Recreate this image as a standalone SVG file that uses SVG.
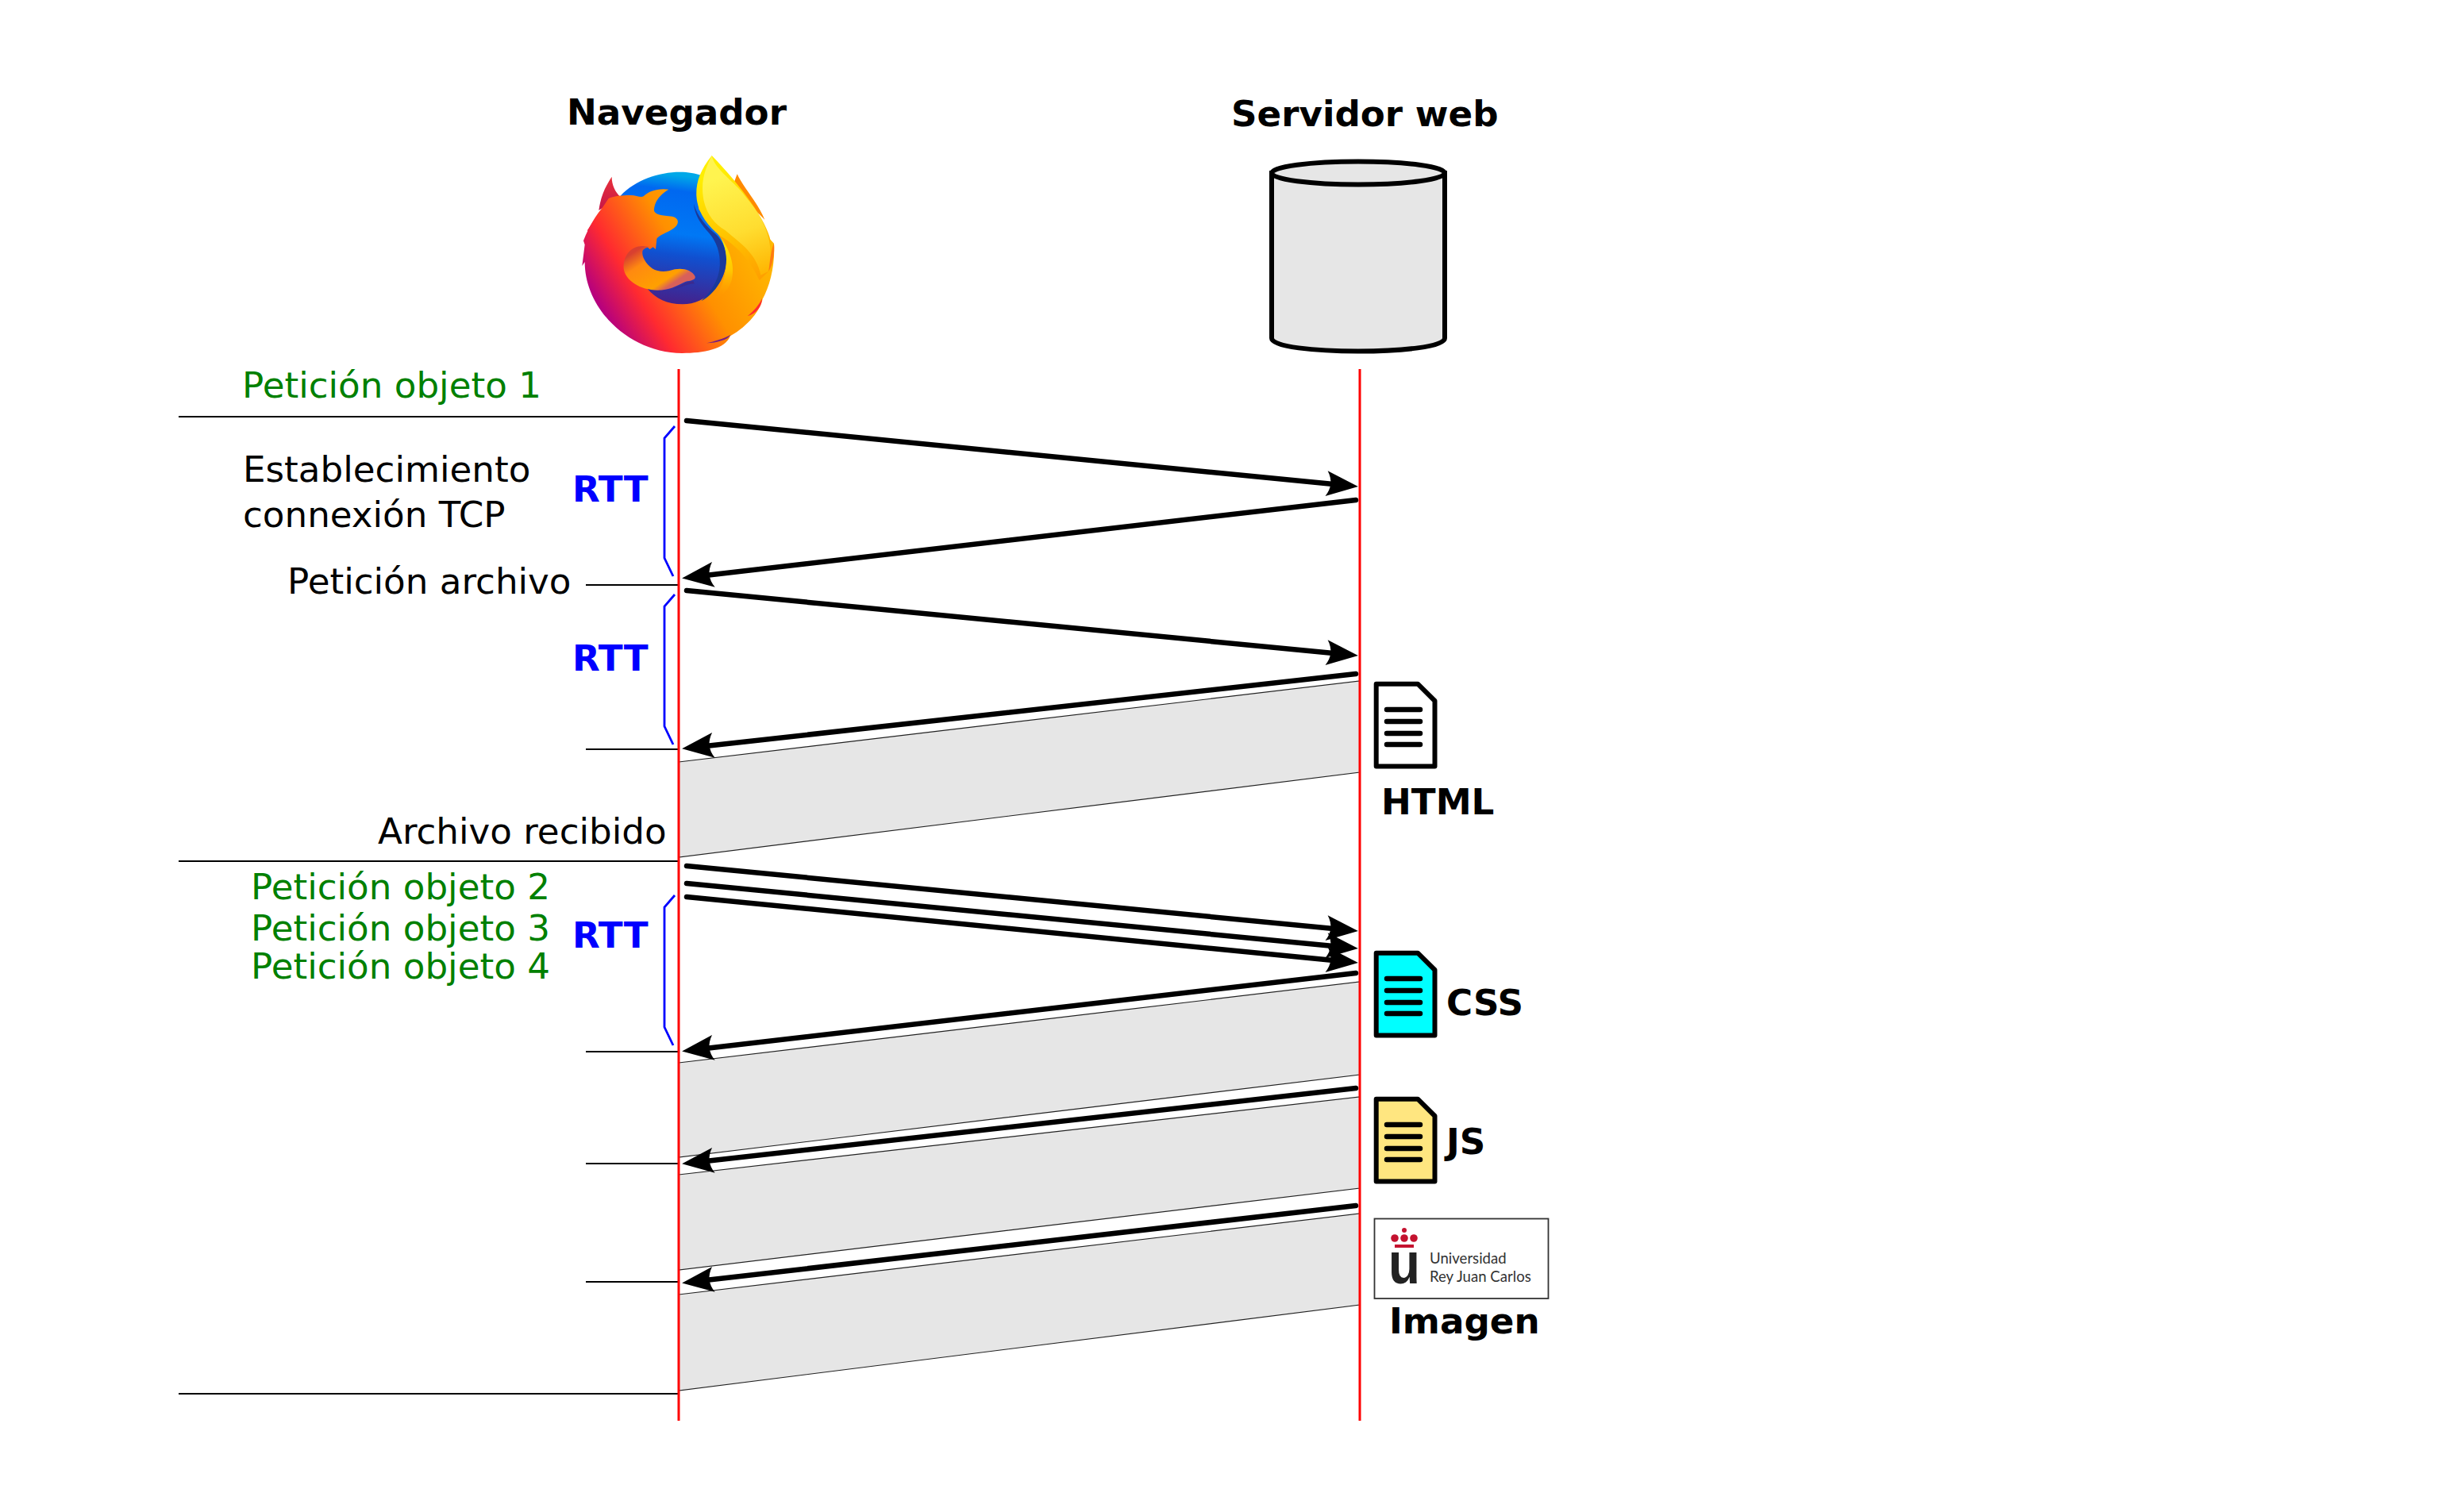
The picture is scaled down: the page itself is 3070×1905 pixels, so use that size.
<svg xmlns="http://www.w3.org/2000/svg" width="3070" height="1905" viewBox="0 0 3070 1905">
<style>
text{font-family:"DejaVu Sans",sans-serif;font-size:45.2px}
.b{font-weight:bold}
.g{fill:#008000}
.r{fill:#0000ff;font-weight:bold}
.life{stroke:#ff0000;stroke-width:3;fill:none}
.tick{stroke:#000;stroke-width:2;fill:none}
.arrow{stroke:#000;stroke-width:6.5;stroke-linecap:round;fill:none;marker-end:url(#head)}
.brace{stroke:#0000ff;stroke-width:2.8;fill:none}
.band{fill:#e6e6e6;stroke:#222;stroke-width:1.2}
.doc{stroke:#000;stroke-width:6;stroke-linejoin:round}
.ln{stroke:#000;stroke-width:6.5;stroke-linecap:round;fill:none}
</style>
<defs>
<marker id="head" markerUnits="userSpaceOnUse" viewBox="-40 -20 64 40" markerWidth="64" markerHeight="40" refX="0" refY="0" orient="auto" overflow="visible">
<path d="M21,0 L-19,-16 C-12,-5 -12,5 -19,16 Z" fill="#000"/>
</marker>
<linearGradient id="body" gradientUnits="userSpaceOnUse" x1="130" y1="830" x2="800" y2="425">
<stop offset="0" stop-color="#b5007f"/><stop offset=".19" stop-color="#ff2a30"/><stop offset=".47" stop-color="#ff9000"/><stop offset=".75" stop-color="#ffb000"/><stop offset="1" stop-color="#ffc400"/>
</linearGradient>
<linearGradient id="globe" gradientUnits="userSpaceOnUse" x1="520" y1="400" x2="460" y2="880">
<stop offset="0" stop-color="#00a8e8"/><stop offset=".12" stop-color="#0068f0"/><stop offset=".45" stop-color="#0078f5"/><stop offset=".62" stop-color="#1050d0"/><stop offset="1" stop-color="#45208a"/>
</linearGradient>
<linearGradient id="ear" gradientUnits="userSpaceOnUse" x1="210" y1="400" x2="190" y2="520">
<stop offset="0" stop-color="#e8303a"/><stop offset="1" stop-color="#c81848"/>
</linearGradient>
<linearGradient id="tail" gradientUnits="userSpaceOnUse" x1="300" y1="680" x2="400" y2="830">
<stop offset="0" stop-color="#d84030"/><stop offset=".3" stop-color="#ff8a10"/><stop offset=".85" stop-color="#ffa000"/><stop offset="1" stop-color="#d8605a"/>
</linearGradient>
<linearGradient id="flame" gradientUnits="userSpaceOnUse" x1="620" y1="400" x2="760" y2="780">
<stop offset="0" stop-color="#fff44f"/><stop offset=".55" stop-color="#ffdd30"/><stop offset="1" stop-color="#ffb400"/>
</linearGradient>
<linearGradient id="gold" gradientUnits="userSpaceOnUse" x1="560" y1="400" x2="720" y2="800">
<stop offset="0" stop-color="#ffee00"/><stop offset=".5" stop-color="#ffc800"/><stop offset="1" stop-color="#ffa000"/>
</linearGradient>
<linearGradient id="cres" gradientUnits="userSpaceOnUse" x1="640" y1="640" x2="620" y2="860">
<stop offset="0" stop-color="#ffe600"/><stop offset=".5" stop-color="#ffc800"/><stop offset="1" stop-color="#ff9800" stop-opacity="0"/>
</linearGradient>
<g id="docshape">
<path d="M1733.7,861.7 H1786 L1807.5,883 V965.5 H1733.7 Z"/>
</g>
<g id="doclines">
<path class="ln" d="M1747,894 H1789 M1747,909 H1789 M1747,924 H1789 M1747,938 H1789"/>
</g>
</defs>

<g id="bands">
<polygon class="band" points="855,960 1713,858 1713,973 855,1080"/>
<polygon class="band" points="855,1339 1713,1237 1713,1354 855,1458"/>
<polygon class="band" points="855,1480 1713,1382 1713,1497 855,1600"/>
<polygon class="band" points="855,1631 1713,1529 1713,1644 855,1752"/>
</g>

<g id="ticks">
<path class="tick" d="M225,525 H855 M738,737 H855 M738,944 H855 M225,1085 H855 M738,1325 H855 M738,1466 H855 M738,1615 H855 M225,1756 H855"/>
</g>

<g id="lifelines">
<path class="life" d="M855,465 V1790"/>
<path class="life" d="M1713,465 V1790"/>
</g>

<g id="braces">
<path class="brace" d="M850,537 L837,552 V703 L848,726"/>
<path class="brace" d="M850,749 L837,764 V915 L848,938"/>
<path class="brace" d="M850,1128 L837,1143 V1294 L848,1317"/>
</g>

<g id="connectors">
<path class="arrow" d="M865,530 L1690,611"/>
<path class="arrow" d="M1708,630 L880,726"/>
<path class="arrow" d="M865,744 L1690,824"/>
<path class="arrow" d="M1708,849 L880,941"/>
<path class="arrow" d="M865,1091 L1690,1171"/>
<path class="arrow" d="M865,1113 L1690,1193"/>
<path class="arrow" d="M865,1130 L1690,1211"/>
<path class="arrow" d="M1708,1226 L880,1322"/>
<path class="arrow" d="M1708,1371 L880,1464"/>
<path class="arrow" d="M1708,1519 L880,1614"/>
</g>

<g id="browser">
<text class="b" x="714" y="157">Navegador</text>
<g transform="translate(700,90) scale(.33333)">
<path d="M163,525 C172,460 195,425 212,398 C212,430 225,455 245,475 Z" fill="url(#ear)"/>
<path d="M672,425 L686,388 C710,440 760,490 790,560 L700,470 Z" fill="#ff8a00"/>
<path d="M100,735 L110,655 L105,640 C125,590 150,540 200,490 L590,400 L825,650 C830,730 810,810 782,860 C775,900 730,960 660,1000 C640,1050 560,1065 478,1065 C280,1065 110,900 110,720 Z" fill="url(#body)"/>
<path d="M245,470 C300,410 390,380 470,380 C500,380 530,385 548,392 L540,520 L600,600 C630,630 645,670 645,710 C645,800 570,880 480,880 C420,880 380,860 345,820 L250,700 Z" fill="url(#globe)"/>
<path d="M522,500 C535,550 575,590 605,615 C635,645 645,680 645,710 C645,770 605,840 550,868 C600,820 625,770 620,710 C618,670 600,630 570,600 C545,570 525,540 522,500 Z" fill="#1a3a9a"/>
<path d="M120,600 L200,480 C225,470 250,468 280,468 C300,466 320,478 332,472 C350,452 390,440 427,446 C395,465 375,490 372,520 C368,540 400,545 440,548 C470,555 468,580 440,597 C420,610 392,618 382,632 L378,672 L368,664 L356,672 L345,662 L200,760 Z" fill="url(#body)"/>
<path d="M330,660 C280,660 255,700 257,745 C262,790 320,827 385,827 C430,827 455,812 490,795 C510,790 530,790 527,775 C515,750 480,742 450,748 C420,758 390,760 365,745 C340,725 325,700 328,680 C330,670 345,665 355,662 Z" fill="url(#tail)"/>
<path d="M440,825 C470,812 490,795 520,793 L525,803 C500,800 470,820 440,825 Z" fill="#3a2a90"/>
<path d="M625,630 C655,670 680,730 665,790 C650,840 600,870 560,890 C610,870 645,790 645,710 C645,680 635,650 625,630 Z" fill="url(#cres)"/>
<path d="M590,318 C545,375 530,420 532,470 C535,530 570,580 620,620 C670,650 730,700 770,790 L805,755 L812,640 C800,570 700,430 590,318 Z" fill="url(#gold)"/>
<path d="M590,318 C600,370 680,420 715,470 C775,540 812,610 812,690 C812,720 808,745 805,755 L775,770 C760,690 700,650 640,600 C590,570 555,520 555,440 C555,390 575,350 590,318 Z" fill="url(#flame)"/>
<path d="M805,755 C810,710 815,670 825,650 C828,690 820,730 805,755 Z" fill="#ff7a10"/>
<path d="M725,925 C750,905 770,880 780,858 C780,885 760,915 725,925 Z" fill="#ff2a30"/>
<path d="M570,1027 C600,1020 635,1010 662,995 C650,1015 610,1025 570,1027 Z" fill="#7a2080"/>
</g>
</g>

<g id="server">
<text class="b" x="1551" y="159">Servidor web</text>
<path d="M1602,218 V426 C1602,448 1820,448 1820,426 V218 Z" fill="#e6e6e6" stroke="#000" stroke-width="6"/>
<ellipse cx="1711" cy="218" rx="109" ry="14.5" fill="#e6e6e6" stroke="#000" stroke-width="6"/>
</g>

<g id="labels">
<text class="g" x="305" y="501">Petición objeto 1</text>
<text x="306" y="607">Establecimiento</text>
<text x="306" y="664">connexión TCP</text>
<text x="362" y="748">Petición archivo</text>
<text x="476" y="1063">Archivo recibido</text>
<text class="g" x="316" y="1133">Petición objeto 2</text>
<text class="g" x="316" y="1185">Petición objeto 3</text>
<text class="g" x="316" y="1233">Petición objeto 4</text>
<text class="r" x="721" y="632">RTT</text>
<text class="r" x="721" y="845">RTT</text>
<text class="r" x="721" y="1194">RTT</text>
</g>

<g id="html-doc">
<use href="#docshape" class="doc" fill="#ffffff"/>
<use href="#doclines"/>
<text class="b" x="1740" y="1026">HTML</text>
</g>
<g id="css-doc">
<use href="#docshape" class="doc" fill="#00ffff" y="339"/>
<use href="#doclines" y="339"/>
<text class="b" x="1822" y="1279">CSS</text>
</g>
<g id="js-doc">
<use href="#docshape" class="doc" fill="#ffe680" y="523"/>
<use href="#doclines" y="523"/>
<text class="b" x="1822" y="1454">JS</text>
</g>
<g id="image-doc">
<rect x="1731.5" y="1535.5" width="219" height="100.5" fill="#fff" stroke="#333" stroke-width="1.8"/>
<g fill="#c4122f">
<circle cx="1757" cy="1560" r="4.8"/><circle cx="1769" cy="1560" r="4.8"/><circle cx="1781" cy="1560" r="4.8"/><circle cx="1769" cy="1550" r="3"/>
<rect x="1757" y="1568" width="24" height="4"/>
</g>
<text x="1749" y="1617" style="font-family:'Liberation Sans',sans-serif;font-weight:bold;font-size:74px;fill:#222" textLength="40" lengthAdjust="spacingAndGlyphs">u</text>
<text x="1801" y="1592" style="font-family:Lato,sans-serif;font-size:18.6px;fill:#333">Universidad</text>
<text x="1801" y="1615" style="font-family:Lato,sans-serif;font-size:18.6px;fill:#333">Rey Juan Carlos</text>
<text class="b" x="1750" y="1680">Imagen</text>
</g>
</svg>
